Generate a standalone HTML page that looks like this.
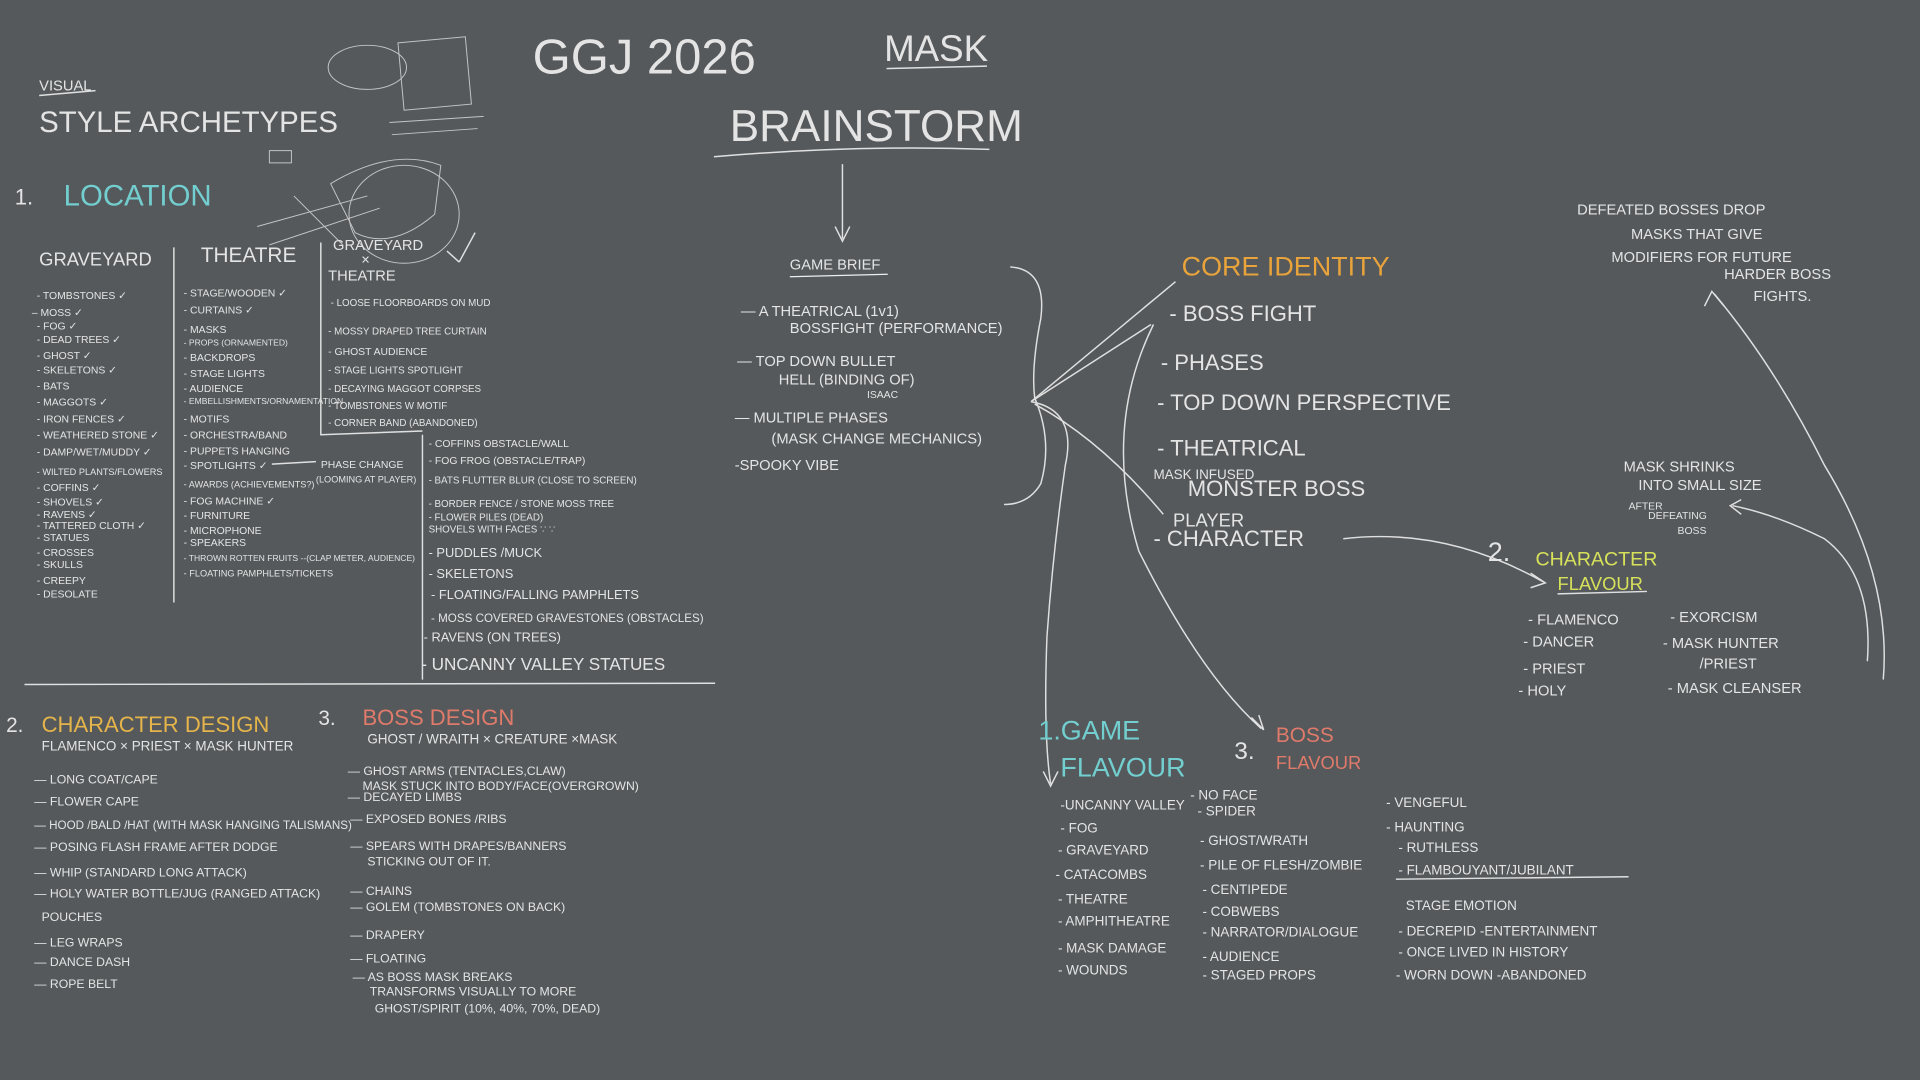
<!DOCTYPE html>
<html><head><meta charset="utf-8"><style>
html,body{margin:0;padding:0;background:#55595c;}
svg{display:block}
text{font-family:"Liberation Sans",sans-serif;fill:#e4e4e4;}
.s{font-size:8.5px}.m{font-size:12px}.l{font-size:15px}
</style></head><body>
<svg width="1920" height="1080" viewBox="0 0 1568 882" preserveAspectRatio="none">
<rect width="1568" height="882" fill="#55595c"/>
<g stroke="#e0e0e0" fill="none" stroke-width="1.2">
<g stroke="#c4c4c4" stroke-width="0.8">
<ellipse cx="300" cy="55" rx="32" ry="18"/><path d="M325 35 L380 30 L385 85 L330 90 Z"/><path d="M318 100 L395 95 M320 110 L390 105"/>
<path d="M270 150 Q320 120 360 135 L355 175 Q320 205 290 190 Z"/><ellipse cx="330" cy="175" rx="45" ry="40"/><path d="M210 185 L300 160 M220 200 L310 170 M240 160 L280 200"/><rect x="220" y="123" width="18" height="10"/>
</g>
<path d="M32 78 L78 74"/>
<path d="M583 128 Q700 118 808 122"/><path d="M724 56 L806 54"/>
<path d="M688 134 L688 195 M682 185 L688 197 L694 185"/>
<path d="M142 202 L142 492"/><path d="M262 198 L262 355 L345 352"/><path d="M345 355 L345 555"/>
<path d="M20 559 L584 558"/>
<path d="M222 379 L258 377"/>
<path d="M825 218 Q855 220 850 260 Q842 300 845 325 Q860 360 850 395 Q840 412 820 412"/>
<path d="M842 328 L960 230"/><path d="M842 328 L940 265"/><path d="M842 328 Q880 335 870 380 Q860 450 855 520 Q852 600 858 640 M852 630 L858 642 L864 630"/>
<path d="M845 330 Q900 360 950 420"/><path d="M942 265 Q900 350 930 450 Q980 550 1030 595 M1022 586 L1032 596 L1028 584"/>
<path d="M1097 440 Q1180 430 1260 475 M1250 468 L1262 476 L1250 480"/>
<path d="M1538 555 Q1545 470 1490 380 Q1450 300 1400 240 M1392 250 L1398 238 L1408 250"/>
<path d="M1525 540 Q1530 470 1490 440 Q1450 420 1415 413 M1422 408 L1413 413 L1422 420"/>
<path d="M1140 718 L1330 716"/><path d="M1272 485 L1345 483"/>
<path d="M375 214 L365 205 M375 214 L388 190"/>
</g>
<text x="435" y="60" style="font-size:40px;font-weight:100" fill="#f2f2f2">GGJ 2026</text>
<text x="722" y="50" style="font-size:30px">MASK</text>
<text x="596" y="115" style="font-size:36px">BRAINSTORM</text>
<text x="32" y="74" class="m">VISUAL</text>
<text x="32" y="108" style="font-size:24px">STYLE ARCHETYPES</text>
<text x="12" y="167" style="font-size:18px">1.</text>
<text x="52" y="168" style="font-size:24px;fill:#73cfcf">LOCATION</text>
<text x="32" y="217" style="font-size:15px">GRAVEYARD</text>
<text x="164" y="214" style="font-size:17px">THEATRE</text>
<text x="272" y="204" class="m">GRAVEYARD</text><text x="295" y="216" class="m">×</text><text x="268" y="229" class="m">THEATRE</text>
<g class="s">
<text x="30" y="244">- TOMBSTONES ✓</text><text x="26" y="258">– MOSS ✓</text><text x="30" y="269">- FOG ✓</text><text x="30" y="280">- DEAD TREES ✓</text><text x="30" y="293">- GHOST ✓</text><text x="30" y="305">- SKELETONS ✓</text><text x="30" y="318">- BATS</text><text x="30" y="331">- MAGGOTS ✓</text><text x="30" y="345">- IRON FENCES ✓</text><text x="30" y="358">- WEATHERED STONE ✓</text><text x="30" y="372">- DAMP/WET/MUDDY ✓</text><text x="30" y="388" style="font-size:7.5px">- WILTED PLANTS/FLOWERS</text><text x="30" y="401">- COFFINS ✓</text><text x="30" y="413">- SHOVELS ✓</text><text x="30" y="423">- RAVENS ✓</text><text x="30" y="432">- TATTERED CLOTH ✓</text><text x="30" y="442">- STATUES</text><text x="30" y="454">- CROSSES</text><text x="30" y="464">- SKULLS</text><text x="30" y="477">- CREEPY</text><text x="30" y="488">- DESOLATE</text>
<text x="150" y="242">- STAGE/WOODEN ✓</text><text x="150" y="256">- CURTAINS ✓</text><text x="150" y="272">- MASKS</text><text x="150" y="282" style="font-size:7px">- PROPS (ORNAMENTED)</text><text x="150" y="295">- BACKDROPS</text><text x="150" y="308">- STAGE LIGHTS</text><text x="150" y="320">- AUDIENCE</text><text x="150" y="330" style="font-size:7px">- EMBELLISHMENTS/ORNAMENTATION</text><text x="150" y="345">- MOTIFS</text><text x="150" y="358">- ORCHESTRA/BAND</text><text x="150" y="371">- PUPPETS HANGING</text><text x="150" y="383">- SPOTLIGHTS ✓</text><text x="150" y="398" style="font-size:7.5px">- AWARDS (ACHIEVEMENTS?)</text><text x="150" y="412">- FOG MACHINE ✓</text><text x="150" y="424">- FURNITURE</text><text x="150" y="436">- MICROPHONE</text><text x="150" y="446">- SPEAKERS</text><text x="150" y="458" style="font-size:7px">- THROWN ROTTEN FRUITS --(CLAP METER, AUDIENCE)</text><text x="150" y="471" style="font-size:7.5px">- FLOATING PAMPHLETS/TICKETS</text>
<text x="262" y="382">PHASE CHANGE</text><text x="258" y="394" style="font-size:7.5px">(LOOMING AT PLAYER)</text>
<text x="270" y="250" style="font-size:8px">- LOOSE FLOORBOARDS ON MUD</text><text x="268" y="273" style="font-size:8px">- MOSSY DRAPED TREE CURTAIN</text><text x="268" y="290">- GHOST AUDIENCE</text><text x="268" y="305" style="font-size:8px">- STAGE LIGHTS SPOTLIGHT</text><text x="268" y="320" style="font-size:8px">- DECAYING MAGGOT CORPSES</text><text x="268" y="334" style="font-size:8px">- TOMBSTONES W MOTIF</text><text x="268" y="348" style="font-size:8px">- CORNER BAND (ABANDONED)</text>
<text x="350" y="365">- COFFINS OBSTACLE/WALL</text><text x="350" y="379">- FOG FROG (OBSTACLE/TRAP)</text><text x="350" y="395" style="font-size:8px">- BATS FLUTTER BLUR (CLOSE TO SCREEN)</text><text x="350" y="414" style="font-size:8px">- BORDER FENCE / STONE MOSS TREE</text><text x="350" y="425" style="font-size:8px">- FLOWER PILES (DEAD)</text><text x="350" y="435" style="font-size:8px">SHOVELS WITH FACES ∵ ∵</text>
</g>
<g style="font-size:10.5px">
<text x="350" y="455">- PUDDLES /MUCK</text><text x="350" y="472">- SKELETONS</text><text x="352" y="489">- FLOATING/FALLING PAMPHLETS</text><text x="352" y="508" style="font-size:9.5px">- MOSS COVERED GRAVESTONES (OBSTACLES)</text><text x="346" y="524">- RAVENS (ON TREES)</text>
</g>
<text x="344" y="547" style="font-size:14px">- UNCANNY VALLEY STATUES</text>
<text x="645" y="220" class="m">GAME BRIEF</text><path d="M645 226 L725 224" stroke="#eee"/>
<g class="m">
<text x="605" y="258">— A THEATRICAL (1v1)</text><text x="645" y="272">BOSSFIGHT (PERFORMANCE)</text>
<text x="602" y="299">— TOP DOWN BULLET</text><text x="636" y="314">HELL (BINDING OF)</text><text x="708" y="325" class="s">ISAAC</text>
<text x="600" y="345">— MULTIPLE PHASES</text><text x="630" y="362">(MASK CHANGE MECHANICS)</text>
<text x="600" y="384">-SPOOKY VIBE</text>
</g>
<text x="965" y="225" style="font-size:22px;fill:#e8a33b">CORE  IDENTITY</text>
<g style="font-size:18px">
<text x="955" y="262">- BOSS FIGHT</text><text x="948" y="302">- PHASES</text><text x="945" y="335">- TOP DOWN PERSPECTIVE</text><text x="945" y="372">- THEATRICAL</text><text x="970" y="405">MONSTER BOSS</text><text x="942" y="446">- CHARACTER</text>
</g>
<text x="942" y="391" style="font-size:11px">MASK INFUSED</text><text x="958" y="430" class="l">PLAYER</text>
<g class="m">
<text x="1288" y="175">DEFEATED BOSSES DROP</text><text x="1332" y="195">MASKS THAT GIVE</text><text x="1316" y="214">MODIFIERS FOR FUTURE</text><text x="1408" y="228">HARDER BOSS</text><text x="1432" y="246">FIGHTS.</text>
<text x="1326" y="385">MASK SHRINKS</text><text x="1338" y="400">INTO SMALL SIZE</text><text x="1330" y="416" class="s">AFTER</text><text x="1346" y="424" class="s">DEFEATING</text><text x="1370" y="436" class="s">BOSS</text>
</g>
<text x="1215" y="458" style="font-size:22px">2.</text>
<text x="1254" y="462" style="font-size:16px;fill:#d7e25a">CHARACTER</text><text x="1272" y="482" style="font-size:15px;fill:#d7e25a">FLAVOUR</text>
<g class="m">
<text x="1248" y="510">- FLAMENCO</text><text x="1244" y="528">- DANCER</text><text x="1244" y="550">- PRIEST</text><text x="1240" y="568">- HOLY</text>
<text x="1364" y="508">- EXORCISM</text><text x="1358" y="529">- MASK HUNTER</text><text x="1388" y="546">/PRIEST</text><text x="1362" y="566">- MASK CLEANSER</text>
</g>
<text x="848" y="604" style="font-size:22px;fill:#73cfcf">1.GAME</text><text x="866" y="634" style="font-size:22px;fill:#73cfcf">FLAVOUR</text>
<text x="1008" y="620" style="font-size:20px">3.</text><text x="1042" y="606" style="font-size:17px;fill:#e07a6a">BOSS</text><text x="1042" y="628" style="font-size:15px;fill:#e07a6a">FLAVOUR</text>
<g style="font-size:11px">
<text x="866" y="661">-UNCANNY VALLEY</text><text x="866" y="680">- FOG</text><text x="864" y="698">- GRAVEYARD</text><text x="862" y="718">- CATACOMBS</text><text x="864" y="738">- THEATRE</text><text x="864" y="756">- AMPHITHEATRE</text><text x="864" y="778">- MASK DAMAGE</text><text x="864" y="796">- WOUNDS</text>
<text x="972" y="653">- NO FACE</text><text x="978" y="666">- SPIDER</text><text x="980" y="690">- GHOST/WRATH</text><text x="980" y="710">- PILE OF FLESH/ZOMBIE</text><text x="982" y="730">- CENTIPEDE</text><text x="982" y="748">- COBWEBS</text><text x="982" y="765">- NARRATOR/DIALOGUE</text><text x="982" y="785">- AUDIENCE</text><text x="982" y="800">- STAGED PROPS</text>
<text x="1132" y="659">- VENGEFUL</text><text x="1132" y="679">- HAUNTING</text><text x="1142" y="696">- RUTHLESS</text><text x="1142" y="714">- FLAMBOUYANT/JUBILANT</text><text x="1148" y="743">STAGE EMOTION</text><text x="1142" y="764">- DECREPID -ENTERTAINMENT</text><text x="1142" y="781">- ONCE LIVED IN HISTORY</text><text x="1140" y="800">- WORN DOWN -ABANDONED</text>
</g>
<text x="5" y="598" style="font-size:17px">2.</text><text x="34" y="598" style="font-size:18px;fill:#e5b44a">CHARACTER DESIGN</text>
<text x="34" y="613" style="font-size:11px">FLAMENCO × PRIEST × MASK HUNTER</text>
<g style="font-size:10px">
<text x="28" y="640">— LONG COAT/CAPE</text><text x="28" y="658">— FLOWER CAPE</text><text x="28" y="677" style="font-size:9.5px">— HOOD /BALD /HAT (WITH MASK HANGING TALISMANS)</text><text x="28" y="695">— POSING FLASH FRAME AFTER DODGE</text><text x="28" y="716">— WHIP (STANDARD LONG ATTACK)</text><text x="28" y="733">— HOLY WATER BOTTLE/JUG (RANGED ATTACK)</text><text x="34" y="752">POUCHES</text><text x="28" y="773">— LEG WRAPS</text><text x="28" y="789">— DANCE DASH</text><text x="28" y="807">— ROPE BELT</text>
</g>
<text x="260" y="592" style="font-size:17px">3.</text><text x="296" y="592" style="font-size:18px;fill:#e07a6a">BOSS  DESIGN</text>
<text x="300" y="607" style="font-size:11px">GHOST / WRAITH × CREATURE ×MASK</text>
<g style="font-size:10px">
<text x="284" y="633">— GHOST ARMS (TENTACLES,CLAW)</text><text x="296" y="645">MASK STUCK INTO BODY/FACE(OVERGROWN)</text><text x="284" y="654">— DECAYED LIMBS</text><text x="286" y="672">— EXPOSED BONES /RIBS</text><text x="286" y="694">— SPEARS WITH DRAPES/BANNERS</text><text x="300" y="707">STICKING OUT OF IT.</text><text x="286" y="731">— CHAINS</text><text x="286" y="744">— GOLEM (TOMBSTONES ON BACK)</text><text x="286" y="767">— DRAPERY</text><text x="286" y="786">— FLOATING</text><text x="288" y="801">— AS BOSS MASK BREAKS</text><text x="302" y="813">TRANSFORMS VISUALLY TO MORE</text><text x="306" y="827">GHOST/SPIRIT (10%, 40%, 70%, DEAD)</text>
</g>
</svg>
</body></html>
